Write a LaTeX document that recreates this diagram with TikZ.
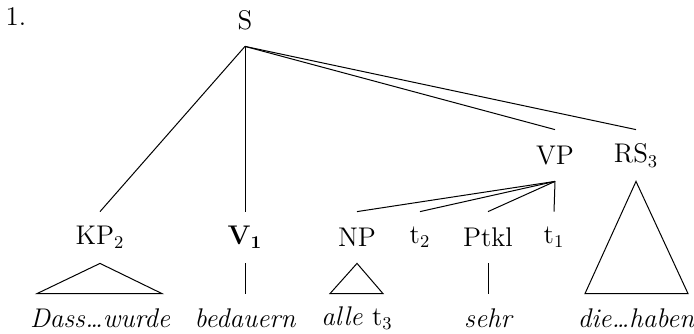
\documentclass[tikz,border=0pt]{standalone}
\usetikzlibrary{calc}
\begin{document}
\begin{tikzpicture}[x=0.5pt,y=-0.5pt,
  lab/.style={font=\fontsize{13.5}{16}\selectfont, inner sep=0pt, minimum height=25.5pt},
  top/.style={font=\fontsize{13.5}{16}\selectfont, inner sep=0pt, minimum height=26pt},
  leaf/.style={font=\fontsize{13.5}{16}\selectfont\itshape, inner sep=0pt, minimum height=24pt},
  edge/.style={draw=black, line width=0.5pt}]
\useasboundingbox (0,0) rectangle (694,333);
\node[font=\fontsize{13.5}{16}\selectfont] (num) at (16,17) {1.};
\node[top] (s) at (245,20) {S};
\node[lab] (vp) at (555,155.5) {VP};
\node[lab] (rs) at (636,155.5) {RS$_3$};
\node[lab] (kp) at (100,237.5) {KP$_2$};
\node[lab] (v) at (245,237.5) {\textbf{V}$_{\mathbf{1}}$};
\node[lab] (np) at (357,237.5) {NP};
\node[lab] (t2) at (420,237.5) {t$_2$};
\node[lab] (ptkl) at (488,237.5) {Ptkl};
\node[lab] (t1) at (554,237.5) {t$_1$};
\node[leaf] (dass) at (100,318) {Dass\dots wurde};
\node[leaf] (bed) at (245,318) {bedauern};
\node[leaf] (alle) at (357,318) {alle \upshape t$_3$};
\node[leaf] (sehr) at (488,318) {sehr};
\node[leaf] (die) at (636,318) {die\dots haben};
\draw[edge] (s.south) -- (kp.north);
\draw[edge] (s.south) -- (v.north);
\draw[edge] (s.south) -- (vp.north);
\draw[edge] (s.south) -- (rs.north);
\draw[edge] (vp.south) -- (np.north);
\draw[edge] (vp.south) -- (t2.north);
\draw[edge] (vp.south) -- (ptkl.north);
\draw[edge] (vp.south) -- (t1.north);
\draw[edge] (v.south) -- (bed.north);
\draw[edge] (ptkl.south) -- (sehr.north);
\draw[edge] (kp.south) -- ([xshift=-31.5pt]dass.north) -- ([xshift=31pt]dass.north) -- cycle;
\draw[edge] (np.south) -- ([xshift=-13.5pt]alle.north) -- ([xshift=13pt]alle.north) -- cycle;
\draw[edge] (rs.south) -- ([xshift=-25.5pt]die.north) -- ([xshift=26pt]die.north) -- cycle;
\end{tikzpicture}
\end{document}
